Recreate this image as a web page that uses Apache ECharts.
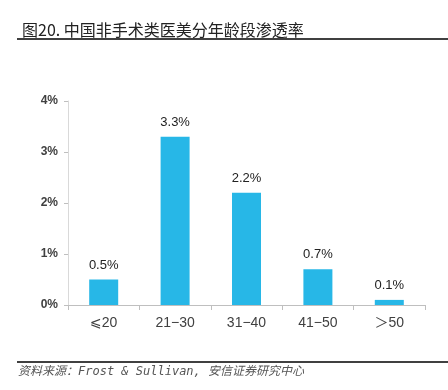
<!DOCTYPE html>
<html>
<head>
<meta charset="utf-8">
<script src="https://cdn.jsdelivr.net/npm/echarts@6/dist/echarts.min.js"></script>
<style>
html,body{margin:0;padding:0;background:#fff;}
#chart{width:448px;height:390px;}
</style>
</head>
<body>
<div id="chart"></div>
<script>
var categories = ['⩽20', '21−30', '31−40', '41−50', '＞50'];
var rates = [0.5, 3.3, 2.2, 0.7, 0.1];
var yTicks = [0, 1, 2, 3, 4];

var chart = echarts.init(document.getElementById('chart'));
chart.setOption({
    animation: false,
    title: {
        text: '图20. 中国非手术类医美分年龄段渗透率',
        left: 17,
        top: 17,
        textStyle: {
            fontFamily: 'Noto Sans CJK SC',
            fontSize: 16,
            fontWeight: 'normal',
            color: '#222'
        }
    },
    graphic: [
        {type: 'line', shape: {x1: 17, y1: 39, x2: 448, y2: 39}, style: {stroke: '#000', lineWidth: 1.5}},
        {type: 'line', shape: {x1: 17, y1: 362, x2: 448, y2: 362}, style: {stroke: '#000', lineWidth: 1.5}},
        {
            type: 'text', left: 18, top: 366,
            style: {
                text: '资料来源：Frost & Sullivan, 安信证券研究中心',
                font: 'italic 12px "DejaVu Sans Mono", "Noto Sans CJK SC"',
                fill: '#555'
            }
        }
    ],
    grid: {left: 68, right: 23, top: 101, bottom: 85},
    xAxis: {
        type: 'category',
        data: categories,
        axisLine: {lineStyle: {color: '#bfbfbf'}},
        axisTick: {show: true, alignWithLabel: false, length: 5, lineStyle: {color: '#bfbfbf'}},
        axisLabel: {
            color: '#404040',
            fontSize: 14,
            margin: 11,
            fontFamily: 'Liberation Sans, DejaVu Sans, Noto Sans CJK SC'
        }
    },
    yAxis: {
        type: 'value',
        min: yTicks[0],
        max: yTicks[yTicks.length - 1],
        interval: 1,
        splitLine: {show: false},
        axisLine: {show: true, lineStyle: {color: '#d9d9d9'}},
        axisTick: {show: true, length: 4, lineStyle: {color: '#bfbfbf'}},
        axisLabel: {
            formatter: '{value}%',
            color: '#404040',
            fontSize: 12,
            fontWeight: 'bold',
            margin: 10,
            fontFamily: 'Liberation Sans'
        }
    },
    series: [{
        type: 'bar',
        data: rates,
        barWidth: 29,
        itemStyle: {color: '#27B7E7'},
        label: {
            show: true,
            position: 'top',
            distance: 8,
            formatter: function (p) { return p.value.toFixed(1) + '%'; },
            color: '#222',
            fontSize: 13,
            fontFamily: 'Liberation Sans'
        }
    }]
});
</script>
</body>
</html>
